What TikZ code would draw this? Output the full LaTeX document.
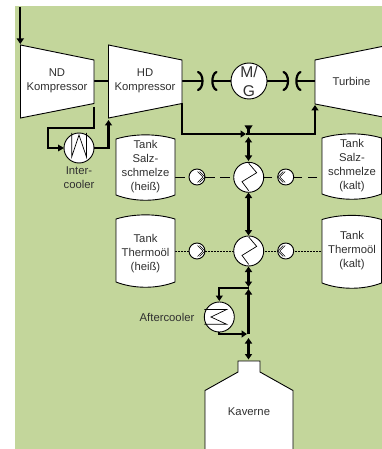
\documentclass[tikz,border=0pt]{standalone}
\usepackage{fontspec}
\setmainfont{Liberation Sans}
\usetikzlibrary{arrows.meta}
\definecolor{bggreen}{HTML}{C3D69B}
\definecolor{txt}{HTML}{303030}
\tikzset{
  x=1pt,y=-1pt,
  label/.style={inner sep=0pt,align=center,text=txt,font=\fontsize{11.3}{14}\selectfont},
  body/.style={draw=black,fill=white,line width=0.9pt,line join=miter},
  flow/.style={draw=black,line width=2.2pt,line join=miter},
  tip/.style={-{Triangle[length=5.5pt,width=7pt]}},
  bothtip/.style={{Triangle[length=5.5pt,width=7pt]}-{Triangle[length=5.5pt,width=7pt]}},
  shaft/.style={draw=black,line width=1.7pt},
  coupling/.style={draw=black,line width=2.2pt,line cap=round},
  hxcircle/.style={circle,draw=black,fill=white,line width=0.9pt,minimum size=30pt,inner sep=0pt},
  pumpcircle/.style={circle,draw=black,fill=white,line width=0.9pt,minimum size=16pt,inner sep=0pt},
  coil/.style={draw=black,line width=0.7pt,line join=miter},
  pumpmark/.style={draw=black,line width=0.6pt,line join=miter},
  saltline/.style={draw=black,line width=0.9pt,dash pattern=on 9.5pt off 5.5pt},
  oilline/.style={draw=black,line width=1pt,dash pattern=on 1.5pt off 1.5pt},
}
\newcommand{\tankbody}[4]{% x0,x1,ytop corner,ybottom corner
  \draw[body] (#1,#3) .. controls ({#1+18},{#3-5.5}) and ({#2-18},{#3-5.5}) .. (#2,#3)
    -- (#2,#4) .. controls ({#2-18},{#4+7}) and ({#1+18},{#4+7}) .. (#1,#4) -- cycle;}
\newcommand{\chevron}[3]{% apex x, y, direction
  \draw[pumpmark] (#1,#2) ++({-5.5*#3},-5.5) -- ++({5.5*#3},5.5) -- ++({-5.5*#3},5.5);
  \draw[pumpmark] (#1,#2) ++({-7.5*#3},-5.5) -- ++({5.5*#3},5.5) -- ++({-5.5*#3},5.5);}
\begin{document}
\begin{tikzpicture}
\useasboundingbox (0,0) rectangle (382,449);
\fill[white] (0,0) rectangle (382,449);
\fill[bggreen] (15,6) rectangle (382,449);

% named ports
\coordinate (inlet) at (20.3,7);
\coordinate (ndtop) at (20.3,44);
\coordinate (ndout) at (94,81);
\coordinate (ndlow) at (94,107);
\coordinate (hdin) at (108.5,81);
\coordinate (hdlow) at (108.5,120);
\coordinate (hdout) at (182,81);
\coordinate (hdbot) at (182,103.5);
\coordinate (tin) at (315,81);
\coordinate (tlow) at (315,105);
\coordinate (junA) at (248.5,134);
\coordinate (junB) at (248.5,288);
\coordinate (junC) at (248.5,334);
\coordinate (kavtop) at (248.5,361);
\coordinate (capA) at (202,81);
\coordinate (capB) at (213,81);
\coordinate (capC) at (287.5,81);
\coordinate (capD) at (296.5,81);

% flow lines
\draw[flow,tip] (inlet) -- (ndtop);
\draw[flow] (ndout) -- (hdin);
\draw[flow] (ndlow) -- (94,128) -- (48,128) -- (48,148) -- (60,148);
\fill[black] (58,144.5) -- (64,148) -- (58,151.5) -- cycle;
\draw[flow,tip] (94,148) -- (108.5,148) -- (hdlow);
\draw[flow,tip] (hdbot) -- (182,134) -- (246,134);
\draw[flow,tip] (246,134) -- (315,134) -- (tlow);
\draw[flow] (248.5,127) -- (junA);
\fill[black] (244.5,125.5) -- (252.5,125.5) -- (248.5,131.5) -- cycle;
\draw[flow,bothtip] (248.5,137) -- (248.5,161);
\draw[flow,bothtip] (248.5,192.5) -- (248.5,235.5);
\draw[flow,bothtip] (248.5,266.5) -- (248.5,287);
\draw[flow,tip] (junB) -- (219.3,288) -- (219.3,301);
\draw[flow,tip] (219.3,332) -- (219.3,334) -- (247,334);
\draw[flow,tip] (junC) -- (248.5,289);
\draw[flow,bothtip] (248.5,338) -- (248.5,359.5);

% shaft
\draw[flow] (hdout) -- (capA);
\draw[shaft] (capB) -- (capC);
\draw[shaft] (capD) -- (tin);
\draw[coupling] (198,72) .. controls (204,74) and (204,88) .. (198,90);
\draw[coupling] (216.5,72) .. controls (211,74) and (211,88) .. (216.5,90);
\draw[coupling] (283.5,72) .. controls (289.5,74) and (289.5,88) .. (283.5,90);
\draw[coupling] (300.5,72) .. controls (295,74) and (295,88) .. (300.5,90);

% salt and oil loops
\coordinate (tsh) at (175,177);
\coordinate (tsk) at (322,177);
\coordinate (toh) at (175,251);
\coordinate (tok) at (322,251);
\coordinate (hxs) at (248.7,177);
\coordinate (hxo) at (248.7,251);
\draw[saltline] (tsh) -- (hxs);
\draw[saltline,dash phase=10pt] (tsk) -- (hxs);
\draw[oilline] (toh) -- (tok);

% machines
\draw[body] (20.5,45) -- (94,60) -- (94,103.5) -- (20.5,118) -- cycle;
\draw[body] (108.5,45) -- (182,60) -- (182,103.5) -- (108.5,118) -- cycle;
\draw[body] (382,46.5) -- (315,60) -- (315,104) -- (382,116.8);
\node[label] (ndtxt) at (57,81) {ND\\Kompressor};
\node[label] (hdtxt) at (145,81) {HD\\Kompressor};
\node[label] (ttxt) at (351.5,81) {Turbine};
\node[circle,draw=black,fill=white,line width=0.9pt,minimum size=36pt,inner sep=0pt] (mg) at (249,81) {};
\node[inner sep=0pt,align=center,text=txt,font=\fontsize{15.6}{18.6}\selectfont] (mgtxt) at (249,81.5) {M/\\G};

% tanks
\tankbody{116}{175}{139}{195}
\tankbody{116}{175}{219}{282}
\tankbody{322}{381.5}{138}{194}
\tankbody{322}{381.5}{219.5}{283}
\node[label] (ts1) at (145.5,167) {Tank\\Salz-\\schmelze\\(heiß)};
\node[label] (to1) at (145.5,254) {Tank\\Thermoöl\\(heiß)};
\node[label] (ts2) at (352,166) {Tank\\Salz-\\schmelze\\(kalt)};
\node[label] (to2) at (352,250.7) {Tank\\Thermoöl\\(kalt)};

% pumps
\node[pumpcircle] (p1) at (197,177) {};
\node[pumpcircle] (p2) at (285.7,177) {};
\node[pumpcircle] (p3) at (197,251) {};
\node[pumpcircle] (p4) at (285.7,251) {};
\chevron{205}{177}{1}
\chevron{277.7}{177}{-1}
\chevron{205}{251}{1}
\chevron{277.7}{251}{-1}

% heat exchangers
\node[hxcircle] (hx1) at (248.7,177.3) {};
\node[hxcircle] (hx2) at (248.7,251) {};
\node[hxcircle] (ic) at (79,148) {};
\node[hxcircle] (ac) at (219.3,317) {};
\draw[coil] (248.7,163.3) -- (256.7,172.7) -- (242,181.7) -- (248.7,190.7);
\draw[coil] (248.7,237) -- (256.7,246.4) -- (242,255.4) -- (248.7,264.4);
\draw[coil] (71.7,133) -- (71.7,157) -- (79,135) -- (86.5,157) -- (86.5,133);
\draw[coil] (204.3,309.5) -- (226.7,309.5) -- (211,317) -- (226.7,324.3) -- (204.3,324.3);
\node[label] (ictxt) at (79,177.3) {Inter-\\cooler};
\node[label] (actxt) at (167,317) {Aftercooler};

% cavern
\draw[body] (205,449) -- (205,390.5) -- (238,372) -- (238,361) -- (260,361) -- (260,372) -- (293,390.5) -- (293,449);
\node[label] (kav) at (249,412) {Kaverne};
\end{tikzpicture}
\end{document}
